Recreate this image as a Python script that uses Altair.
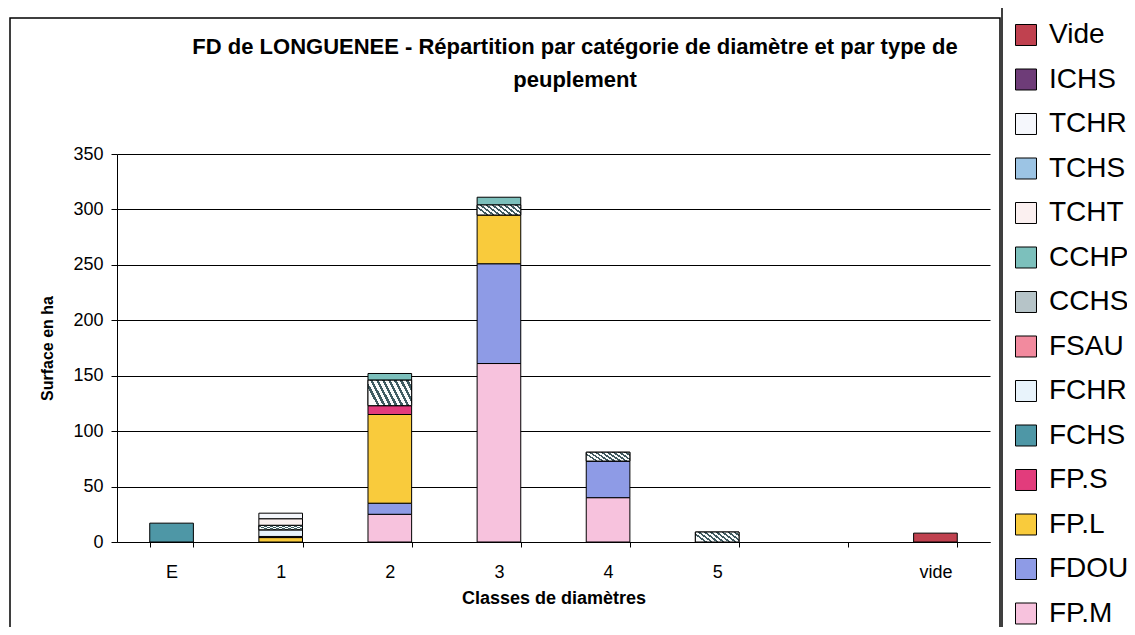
import altair as alt
import pandas as pd

categories = ["E", "1", "2", "3", "4", "5", " ", "vide"]

# stacking order, bottom to top
series = ["FP.M", "FDOU", "FP.L", "FP.S", "FCHS", "FCHR", "FSAU",
          "CCHS", "CCHP", "TCHT", "TCHS", "TCHR", "ICHS", "Vide"]

fp_m = [0, 0, 25, 161, 40, 0, 0, 0]
fdou = [0, 0, 10, 90, 33, 0, 0, 0]
fp_l = [0, 4, 80, 44, 0, 0, 0, 0]
fp_s = [0, 1, 8, 0, 0, 0, 0, 0]
fchs = [17, 0, 0, 0, 0, 0, 0, 0]
fchr = [0, 6, 0, 0, 0, 0, 0, 0]
fsau = [0, 0, 0, 0, 0, 0, 0, 0]
cchs = [0, 4, 23, 9, 8, 9, 0, 0]
cchp = [0, 0, 6, 7, 0, 0, 0, 0]
tcht = [0, 6, 0, 0, 0, 0, 0, 0]
tchs = [0, 0, 0, 0, 0, 0, 0, 0]
tchr = [0, 5, 0, 0, 0, 0, 0, 0]
ichs = [0, 0, 0, 0, 0, 0, 0, 0]
vide = [0, 0, 0, 0, 0, 0, 0, 8]

values = [fp_m, fdou, fp_l, fp_s, fchs, fchr, fsau, cchs, cchp, tcht, tchs, tchr, ichs, vide]

title_lines = ["FD de LONGUENEE - Répartition par catégorie de diamètre et par type de",
               "peuplement"]

colors = {
    "Vide": "#c0414f", "ICHS": "#6e3c78", "TCHR": "#f5f7fc", "TCHS": "#9cc4e4",
    "TCHT": "#fbf0f0", "CCHP": "#7cc0bc", "CCHS": "#b6c4c8", "FSAU": "#f28a9e",
    "FCHR": "#e8f3fb", "FCHS": "#4e97a6", "FP.S": "#e23c7c", "FP.L": "#f9cb3c",
    "FDOU": "#8e9be6", "FP.M": "#f7c2dd",
}

legend_order = list(reversed(series))

rows = []
for order, (name, vals) in enumerate(zip(series, values)):
    for cat, v in zip(categories, vals):
        if v > 0:
            rows.append({"cat": cat, "series": name, "order": order, "value": v})
df = pd.DataFrame(rows)

FONT = "Liberation Sans"

base = alt.Chart(df).transform_stack(
    stack="value", groupby=["cat"], as_=["y0", "y1"],
    sort=[alt.SortField("order", order="ascending")]
)

x_enc = alt.X(
    "cat:N",
    scale=alt.Scale(domain=categories, paddingInner=0.6, paddingOuter=0.3),
    sort=categories,
    axis=alt.Axis(
        title="Classes de diamètres", titleFontSize=18, titleFontWeight="bold",
        titleColor="black", titlePadding=8, labelAngle=0, labelFontSize=18,
        labelColor="black", labelPadding=16, tickBand="extent", tickSize=5,
        tickColor="black", domainColor="black", grid=False,
    ),
)
y_enc = alt.Y(
    "y0:Q",
    scale=alt.Scale(domain=[0, 350], nice=False),
    axis=alt.Axis(
        values=[0, 50, 100, 150, 200, 250, 300, 350], grid=True,
        gridColor="black", gridWidth=1, gridOpacity=1, domainColor="black",
        tickColor="black", tickSize=6, labelFontSize=18, labelColor="black",
        labelPadding=8, title="Surface en ha", titleFontSize=16,
        titleFontWeight="bold", titleColor="black", titlePadding=17,
    ),
)

bars = base.mark_bar(stroke="black", strokeWidth=1).encode(
    x=x_enc,
    y=y_enc,
    y2="y1:Q",
    fill=alt.Fill(
        "series:N",
        scale=alt.Scale(domain=legend_order, range=[colors[s] for s in legend_order]),
        legend=alt.Legend(
            title=None, orient="none", legendX=895, legendY=-133,
            labelFontSize=28, labelFont=FONT, labelColor="black",
            symbolType="square", symbolSize=440, symbolStrokeColor="black",
            symbolStrokeWidth=1, symbolOpacity=1, rowPadding=16.5, labelOffset=9,
            labelLimit=300, padding=0,
        ),
    ),
)

# diagonal hatch for CCHS
stops = []
n = 8
for i in range(n):
    a = i / n
    b = a + 0.45 / n
    stops += [
        {"offset": a, "color": "#fafbfb"},
        {"offset": a, "color": "#3f5a60"},
        {"offset": b, "color": "#3f5a60"},
        {"offset": b, "color": "#fafbfb"},
    ]
stops.append({"offset": 1, "color": "#fafbfb"})
hatch = {"gradient": "linear", "x1": 0, "y1": 0.3, "x2": 1, "y2": 0, "stops": stops}

hatched = base.transform_filter(alt.datum.series == "CCHS").mark_bar(
    fill=hatch, stroke="black", strokeWidth=1
).encode(x="cat:N", y="y0:Q", y2="y1:Q")

frame_df = pd.DataFrame({"k": [0]})
frame = alt.Chart(frame_df).mark_rect(
    fill="transparent", stroke="black", strokeWidth=1.5
).encode(x=alt.value(-107), x2=alt.value(883), y=alt.value(-136), y2=alt.value(476))
legend_box = alt.Chart(frame_df).mark_rect(
    fill="transparent", stroke="black", strokeWidth=1.5
).encode(x=alt.value(885), x2=alt.value(1040), y=alt.value(-150), y2=alt.value(478))

title = alt.Chart(frame_df).mark_text(
    fontSize=22, fontWeight="bold", font=FONT, color="black", lineHeight=33,
    align="center", baseline="middle",
).encode(x=alt.value(458), y=alt.value(-107), text=alt.value(title_lines))

chart = alt.layer(frame, legend_box, title, bars, hatched).properties(
    width=873,
    height=388,
    autosize=alt.AutoSizeParams(type="none"),
    padding={"left": 109, "top": 146, "right": 137, "bottom": 85},
).configure(
    font=FONT, background="white"
).configure_view(strokeWidth=0)

chart.save("out.html", embed_options={"renderer": "svg", "actions": False})
